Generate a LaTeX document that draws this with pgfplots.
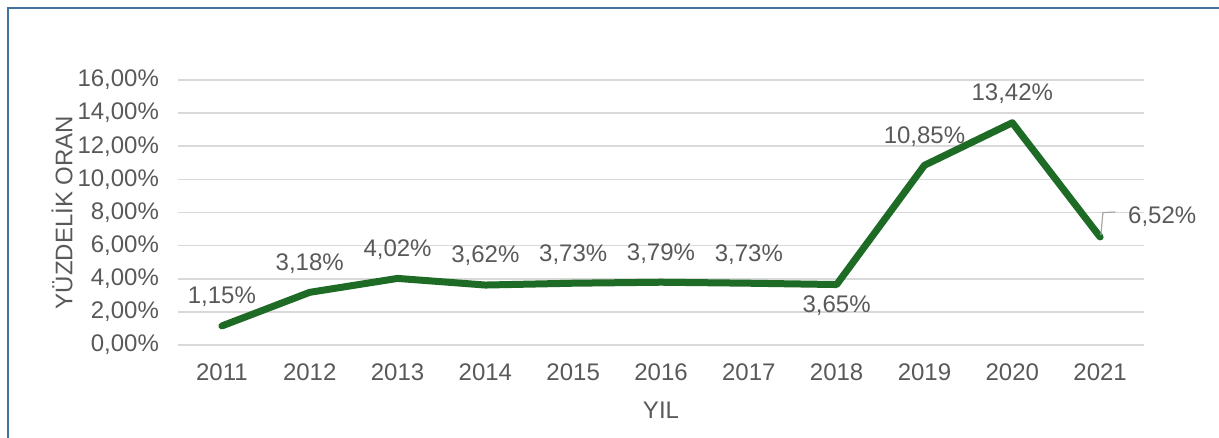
\documentclass[border=0pt]{standalone}
\usepackage{pgfplots}
\pgfplotsset{compat=1.18}
\usepackage{fontspec}
\setmainfont{Liberation Sans}
\definecolor{txt}{RGB}{89,89,89}
\definecolor{gridc}{RGB}{217,217,217}
\definecolor{lineg}{RGB}{30,107,38}
\definecolor{frame}{RGB}{65,113,156}
\begin{document}
\begin{tikzpicture}
\useasboundingbox (0,0) rectangle (609.5pt,219pt);
\draw[frame,line width=1.1pt] (4pt,-2pt) -- (4pt,215pt) -- (612pt,215pt);
\begin{axis}[
  at={(89pt,46.5pt)}, anchor=south west,
  scale only axis, width=483pt, height=132.5pt,
  xmin=-0.5, xmax=10.5, ymin=0, ymax=16,
  axis line style={draw=none},
  major tick length=0pt,
  xtick={0,...,10},
  xticklabels={2011,2012,2013,2014,2015,2016,2017,2018,2019,2020,2021},
  ytick={0,2,...,16},
  yticklabels={{0,00\%},{2,00\%},{4,00\%},{6,00\%},{8,00\%},{10,00\%},{12,00\%},{14,00\%},{16,00\%}},
  ymajorgrids,
  grid style={gridc,line width=0.8pt},
  tick label style={font=\fontsize{12}{14}\selectfont, text=txt},
  xticklabel style={yshift=-6pt},
  yticklabel style={xshift=-6pt},
  /pgf/number format/assume math mode=true,
  xlabel={YIL},
  label style={font=\fontsize{12}{14}\selectfont, text=txt},
  xlabel style={at={(axis description cs:0.5,0)}, anchor=center, yshift=-32.5pt},
  clip=false,
  nodes near coords style={font=\fontsize{12}{14}\selectfont, text=txt},
]
\addplot[lineg, line width=3.5pt, line cap=round, line join=round] coordinates {
(0,1.15) (1,3.18) (2,4.02) (3,3.62) (4,3.73) (5,3.79) (6,3.73) (7,3.65) (8,10.85) (9,13.42) (10,6.52)};
% labels above
\addplot[draw=none, mark=none, point meta=explicit symbolic,
  nodes near coords, nodes near coords align={anchor=south}, nodes near coords style={yshift=6pt}]
  coordinates {
(0,1.15) [{1,15\%}] (1,3.18) [{3,18\%}] (2,4.02) [{4,02\%}] (3,3.62) [{3,62\%}]
(4,3.73) [{3,73\%}] (5,3.79) [{3,79\%}] (6,3.73) [{3,73\%}] (8,10.85) [{10,85\%}] (9,13.42) [{13,42\%}]};
% label below
\addplot[draw=none, mark=none, point meta=explicit symbolic,
  nodes near coords, nodes near coords align={anchor=north}, nodes near coords style={yshift=-2pt}]
  coordinates {(7,3.65) [{3,65\%}]};
% label right with leader
\addplot[draw=none, mark=none, point meta=explicit symbolic,
  nodes near coords, nodes near coords align={anchor=west}, nodes near coords style={xshift=10.5pt, yshift=10pt}]
  coordinates {(10,6.52) [{6,52\%}]};
\draw[gray!70, line width=0.6pt] (axis cs:10,6.52) ++(0.4pt,1pt) -- ++(1pt,11.2pt) -- ++(6.2pt,0.3pt);
\node[rotate=90, anchor=center, font=\fontsize{12}{14}\selectfont, text=txt]
  at ([xshift=-58pt]axis description cs:0,0.5) {YÜZDELİK ORAN};
\end{axis}
\end{tikzpicture}
\end{document}
